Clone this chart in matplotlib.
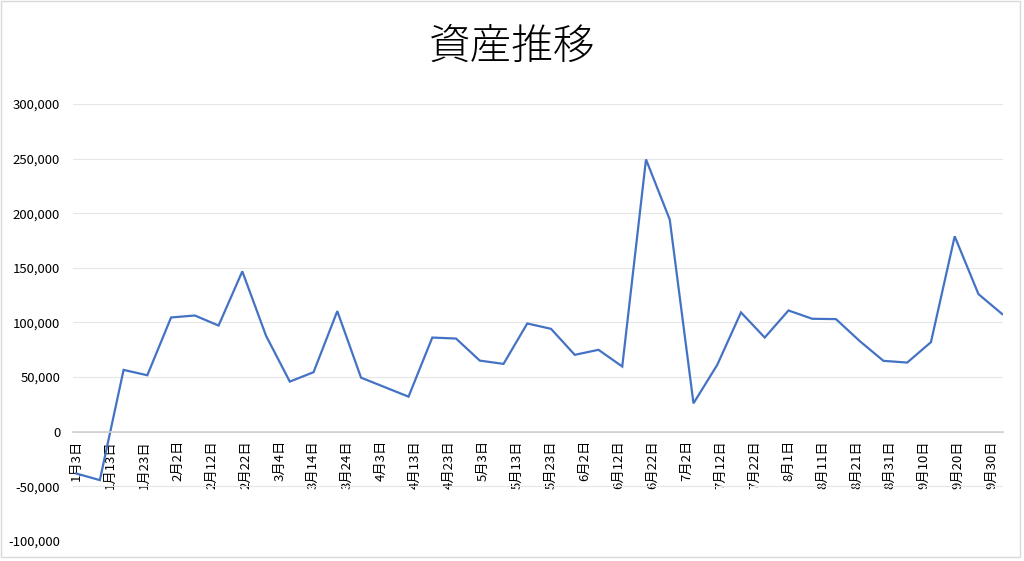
import matplotlib
matplotlib.use("Agg")
import matplotlib.pyplot as plt
from matplotlib.ticker import FuncFormatter
from matplotlib.patches import Rectangle
import pandas as pd

plt.rcParams['font.family'] = ['Noto Sans CJK JP', 'DejaVu Sans']

title = "資産推移"
start_date = "2021-01-03"
n_points = 40
values = [
    -38200, -44300, 56600, 51700, 104600, 106400, 97200, 146800, 87800, 45900,
    54500, 110400, 49500, 40800, 32100, 86200, 85300, 65100, 62100, 99100,
    94200, 70400, 75000, 59700, 249300, 194200, 26000, 61200, 109200, 86200,
    111000, 103400, 103100, 83000, 64900, 63300, 82000, 178900, 126000, 107700,
]
dates = pd.date_range(start_date, periods=n_points, freq="7D")
tick_dates = pd.date_range("2021-01-03", "2021-09-30", freq="10D")
tick_labels = [f"{d.month}月{d.day}日" for d in tick_dates]
y_ticks = [-100000, -50000, 0, 50000, 100000, 150000, 200000, 250000, 300000]

fig = plt.figure(figsize=(10.24, 5.61), dpi=100)
ax = fig.add_axes([0.071, 0.0357, 0.9088, 0.7789])

for s in ["top", "right", "left"]:
    ax.spines[s].set_visible(False)
ax.spines["bottom"].set_position(("data", 0))
ax.spines["bottom"].set_color("#d0d0d0")
ax.spines["bottom"].set_linewidth(1.2)

ax.plot(dates, values, color="#4472C4", lw=1.6, solid_joinstyle="miter")

ax.set_ylim(-100000, 300000)
ax.set_yticks(y_ticks)
ax.yaxis.set_major_formatter(FuncFormatter(lambda v, p: f"{int(v):,}"))
ax.grid(axis="y", color="#e6e6e6", lw=0.8)
ax.set_axisbelow(True)

ax.set_xlim(dates[0] - pd.Timedelta(days=1), dates[-1] + pd.Timedelta(hours=8))
ax.set_xticks(tick_dates)
ax.set_xticklabels(tick_labels)
ax.tick_params(axis="x", length=0, pad=6, labelrotation=90, labelsize=9.5)
ax.tick_params(axis="y", length=0, pad=9, labelsize=9.5)
for lbl in ax.get_xticklabels():
    lbl.set_ha("center")
    lbl.set_va("top")

fig.text(0.5, 1 - 47 / 561, title, ha="center", va="center", fontsize=30,
         fontweight="light")

fig.patches.append(Rectangle((1 / 1024, 4 / 561), 1019 / 1024, 556 / 561,
                             transform=fig.transFigure, fill=False,
                             edgecolor="#d9d9d9", lw=1))

fig.savefig("out.png", dpi=100)
